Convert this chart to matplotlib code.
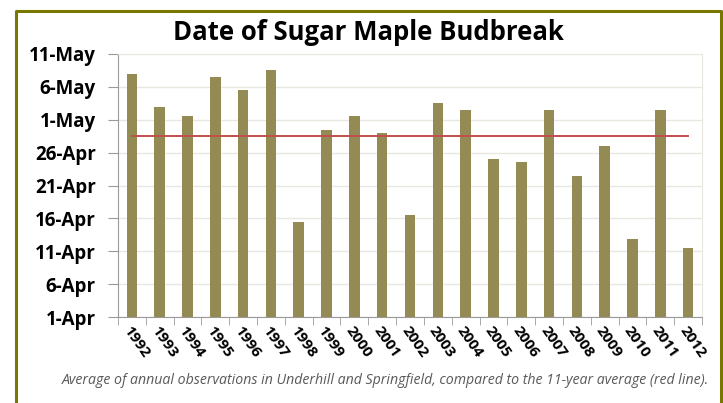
#!/usr/bin/env python3
import numpy as np
import matplotlib.pyplot as plt
from matplotlib.lines import Line2D

# Data: budbreak date as days after 1-Apr
years = ['1992', '1993', '1994', '1995', '1996', '1997', '1998', '1999', '2000', '2001', '2002',
         '2003', '2004', '2005', '2006', '2007', '2008', '2009', '2010', '2011', '2012']
days_after_apr1 = [37.0, 32.0, 30.5, 36.5, 34.5, 37.5, 14.5, 28.5, 30.5, 28.0, 15.5,
                   32.6, 31.5, 24.0, 23.5, 31.5, 21.5, 26.0, 11.9, 31.5, 10.5]
average_days = 27.5
tick_days = [0, 5, 10, 15, 20, 25, 30, 35, 40]
tick_labels = ['1-Apr', '6-Apr', '11-Apr', '16-Apr', '21-Apr', '26-Apr', '1-May', '6-May', '11-May']

W, H = 723, 403
fig = plt.figure(figsize=(W / 100, H / 100), dpi=100)
ax = fig.add_axes([118 / W, 1 - 317 / H, (702 - 118) / W, (317 - 54) / H])

x_pos = np.arange(len(years))
ax.bar(x_pos, days_after_apr1, 0.38, color='#948a54', zorder=3)
ax.plot(x_pos, [average_days] * len(years), color='#c0504d', linewidth=1.4, zorder=4)

ax.set_xlim(-0.5, len(years) - 0.5)
ax.set_ylim(0, 40)
ax.set_yticks(tick_days)
ax.set_yticklabels(tick_labels, fontfamily='Open Sans', fontweight='bold', fontsize=13.5)
ax.set_xticks(x_pos)
ax.set_xticklabels(years, rotation=-55, ha='left', va='top', rotation_mode='anchor',
                   fontfamily='Open Sans', fontweight='bold', fontsize=11)
ax.set_xticks(np.arange(-0.5, len(years)), minor=True)
ax.tick_params(axis='x', which='major', length=0, pad=5)
ax.tick_params(axis='x', which='minor', length=6, color='#9a9a9a')
ax.tick_params(axis='y', length=7, color='#9a9a9a', pad=9)

ax.grid(axis='y', color='#e8e8e0', linewidth=1, zorder=0)
for side in ['left', 'bottom']:
    ax.spines[side].set_color('#9a9a9a')
for side in ['top', 'right']:
    ax.spines[side].set_color('#e8e8e0')

fig.text(368 / W, 1 - 33 / H, 'Date of Sugar Maple Budbreak', ha='center', va='center',
         fontfamily='Open Sans', fontweight='bold', fontsize=18.5)
fig.text(385 / W, 1 - 381 / H,
         'Average of annual observations in Underhill and Springfield, '
         'compared to the 11-year average (red line).',
         ha='center', va='center', fontfamily='Open Sans', fontstyle='italic',
         fontsize=10.2, color='#595959')

# olive frame around the chart
fx = [15.5 / W, 15.5 / W, 720.5 / W, 720.5 / W]
fy = [-0.05, 1 - 10.5 / H, 1 - 10.5 / H, -0.05]
fig.add_artist(Line2D(fx, fy, transform=fig.transFigure, color='#787800', linewidth=2.2))

fig.savefig('out.png', dpi=100)
